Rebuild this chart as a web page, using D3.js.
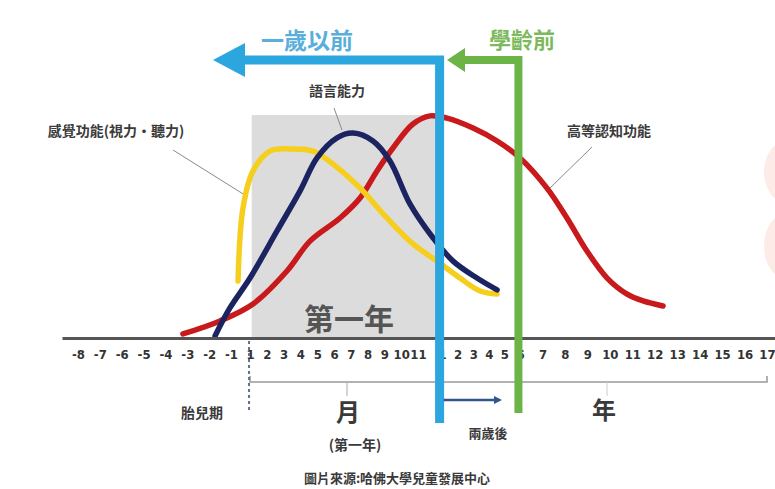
<!DOCTYPE html>
<html>
<head>
<meta charset="utf-8">
<script src="https://cdn.jsdelivr.net/npm/d3@7"></script>
<style>
  body { margin: 0; background: #fff; }
  svg { display: block; font-family: "Noto Sans CJK TC", "Noto Sans", sans-serif; }
</style>
</head>
<body>
<svg id="chart" width="775" height="489"></svg>
<script>
// tick labels along the age axis: prenatal months, first-year months, years
var prenatal = ["-8", "-7", "-6", "-5", "-4", "-3", "-2", "-1"];
var months = ["1", "2", "3", "4", "5", "6", "7", "8", "9", "10", "11"];
var years = ["1", "2", "3", "4", "5", "6", "7", "8", "9", "10", "11", "12", "13", "14", "15", "16", "17"];
var tickLabels = prenatal.concat(months, years);

// curves, x = position in tick-label index, y = relative level (0-100)
var sensoryX = [7.37, 7.63, 8.18, 9.19, 10.38, 11.75, 12.94, 14.55, 16.15, 17.7, 18.79, 20.15, 21.44, 22.53];
var sensoryY = [25.5, 58.6, 75.5, 84.5, 85.5, 84.5, 78.6, 67.7, 54.1, 42.3, 34.5, 26.8, 20.9, 19.5];

var languageX = [6.27, 6.95, 8.0, 9.61, 10.98, 11.99, 13.18, 14.13, 15.32, 16.33, 17.52, 18.63, 19.71, 21.24, 22.53];
var languageY = [0.5, 13.2, 26.8, 48.2, 66.4, 81.4, 90.5, 92.7, 89.1, 80, 60.5, 45, 34.5, 26.8, 21.4];

var cognitiveX = [4.8, 6.5, 8.18, 10.2, 11.57, 13.36, 14.55, 15.56, 16.51, 17.7, 18.5, 19.32, 20.99, 22.53, 24, 25.2, 26.09, 26.98, 27.88, 28.77, 29.48, 30.37];
var cognitiveY = [1.4, 7.3, 15, 30, 43.6, 54.1, 63.2, 75.5, 85.9, 96.8, 100.5, 99.5, 95, 89.1, 81.4, 67.7, 54.1, 39.1, 26.8, 19.5, 16.4, 14.1];

var svg = d3.select("#chart");

// hand drawn axis: the three groups are spaced differently
var x = d3.scaleLinear()
  .domain([-0.75, 0, 7, 8, 18, 19, 24, 35, 35.4])
  .range([62, 78, 231, 250, 418, 442, 520, 767, 775]);

var y = d3.scaleLinear()
  .domain([0, 100])
  .range([337, 117]);

var axisY = 338;

// pale watermark on the right edge
svg.append("ellipse").attr("cx", 787).attr("cy", 172).attr("rx", 23).attr("ry", 31).attr("fill", "#fdebe7");
svg.append("ellipse").attr("cx", 787).attr("cy", 246).attr("rx", 23).attr("ry", 33).attr("fill", "#fdebe7");

// first year box
svg.append("rect")
  .attr("x", x(8.1))
  .attr("y", 115)
  .attr("width", x(18.85) - x(8.1))
  .attr("height", axisY - 115)
  .attr("fill", "#dcdcdc");

svg.append("text")
  .attr("x", 349)
  .attr("y", 330)
  .attr("text-anchor", "middle")
  .attr("font-size", 30)
  .attr("font-weight", "bold")
  .attr("fill", "#555")
  .text("第一年");

// leader lines for the labels
var leaders = [[173, 150, 248, 197], [334, 108, 342, 130], [592, 147, 550, 188]];
svg.append("g")
  .selectAll("line")
  .data(leaders)
  .enter()
  .append("line")
  .attr("x1", function(d) { return d[0]; })
  .attr("y1", function(d) { return d[1]; })
  .attr("x2", function(d) { return d[2]; })
  .attr("y2", function(d) { return d[3]; })
  .attr("stroke", "#8a8a8a")
  .attr("stroke-width", 1);

// the three curves
var line = d3.line()
  .x(function(d) { return x(d[0]); })
  .y(function(d) { return y(d[1]); })
  .curve(d3.curveCatmullRom.alpha(0.5));

var curves = [
  { xs: cognitiveX, ys: cognitiveY, color: "#c8191c" },
  { xs: sensoryX, ys: sensoryY, color: "#f6cf1e" },
  { xs: languageX, ys: languageY, color: "#1b2461" }
];

svg.append("g")
  .selectAll("path")
  .data(curves)
  .enter()
  .append("path")
  .attr("d", function(c) { return line(d3.zip(c.xs, c.ys)); })
  .attr("fill", "none")
  .attr("stroke", function(c) { return c.color; })
  .attr("stroke-width", 5.5)
  .attr("stroke-linecap", "round")
  .attr("stroke-linejoin", "round");

// x axis
var xAxis = d3.axisBottom(x)
  .tickValues(d3.range(tickLabels.length))
  .tickFormat(function(i) { return tickLabels[i]; })
  .tickSize(0)
  .tickPadding(12);

var gx = svg.append("g")
  .attr("transform", "translate(0," + axisY + ")")
  .call(xAxis);
gx.select(".domain").attr("stroke", "#555").attr("stroke-width", 3);
gx.selectAll("text")
  .attr("font-size", 13)
  .attr("font-weight", "bold")
  .attr("fill", "#333")
  .attr("font-family", "'Liberation Sans Narrow', 'DejaVu Sans Condensed', sans-serif");

// bracket under the ticks
svg.append("path")
  .attr("d", "M" + x(8) + ",376V382H" + x(35) + "V376")
  .attr("fill", "none")
  .attr("stroke", "#999")
  .attr("stroke-width", 1.5);
svg.append("line").attr("x1", 347).attr("x2", 347).attr("y1", 382).attr("y2", 396).attr("stroke", "#aaa");
svg.append("line").attr("x1", 607).attr("x2", 607).attr("y1", 382).attr("y2", 396).attr("stroke", "#ccc");

// birth divider
svg.append("line")
  .attr("x1", x(7.95)).attr("x2", x(7.95))
  .attr("y1", 341).attr("y2", 412)
  .attr("stroke", "#60708c")
  .attr("stroke-width", 2)
  .attr("stroke-dasharray", "3,3");

// under one year (blue)
var blueX = x(18.9);
svg.append("path")
  .attr("d", "M" + blueX + ",423V60H240")
  .attr("fill", "none")
  .attr("stroke", "#2ba6df")
  .attr("stroke-width", 9);
svg.append("path")
  .attr("d", "M213,60L245,43L245,77Z")
  .attr("fill", "#2ba6df");
svg.append("text")
  .attr("x", 307).attr("y", 49)
  .attr("text-anchor", "middle")
  .attr("font-size", 23)
  .attr("font-weight", "bold")
  .attr("fill", "#5aaedb")
  .text("一歲以前");

// preschool (green)
var greenX = x(23.9);
svg.append("path")
  .attr("d", "M" + greenX + ",413V60H460")
  .attr("fill", "none")
  .attr("stroke", "#6cb446")
  .attr("stroke-width", 8);
svg.append("path")
  .attr("d", "M447,60L465,48L465,72Z")
  .attr("fill", "#6cb446");
svg.append("text")
  .attr("x", 522).attr("y", 48)
  .attr("text-anchor", "middle")
  .attr("font-size", 22)
  .attr("font-weight", "bold")
  .attr("fill", "#7db95d")
  .text("學齡前");

// dark arrow between blue and green
svg.append("line")
  .attr("x1", blueX + 4).attr("x2", 496)
  .attr("y1", 400).attr("y2", 400)
  .attr("stroke", "#33548e")
  .attr("stroke-width", 2.5);
svg.append("path")
  .attr("d", "M502,400L494,396L494,404Z")
  .attr("fill", "#33548e");

// text labels
var labels = [
  { t: "感覺功能(視力・聽力)", x: 116, y: 136, s: 14 },
  { t: "語言能力", x: 337, y: 96, s: 14 },
  { t: "高等認知功能", x: 609, y: 136, s: 14 },
  { t: "胎兒期", x: 202, y: 418, s: 14 },
  { t: "月", x: 348, y: 421, s: 24 },
  { t: "(第一年)", x: 355, y: 450, s: 14 },
  { t: "年", x: 604, y: 419, s: 24 },
  { t: "兩歲後", x: 488, y: 438, s: 13 },
  { t: "圖片來源:哈佛大學兒童發展中心", x: 397, y: 483, s: 13 }
];

svg.append("g")
  .selectAll("text")
  .data(labels)
  .enter()
  .append("text")
  .attr("x", function(d) { return d.x; })
  .attr("y", function(d) { return d.y; })
  .attr("text-anchor", "middle")
  .attr("font-size", function(d) { return d.s; })
  .attr("font-weight", "bold")
  .attr("fill", "#3a3a3a")
  .text(function(d) { return d.t; });
</script>
</body>
</html>
